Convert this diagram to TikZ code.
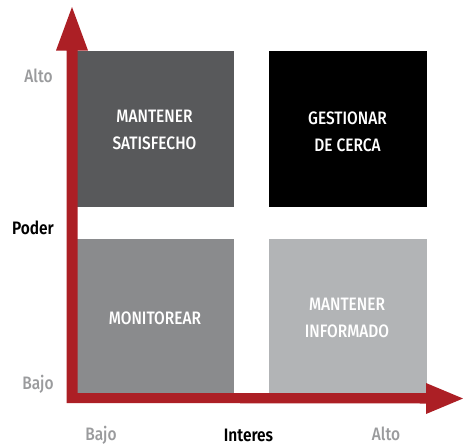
\documentclass[tikz,border=0pt]{standalone}
\usepackage{fontspec}
\setmainfont{Fira Sans}[UprightFont=* Medium, BoldFont=* SemiBold, FakeStretch=0.86]
\definecolor{axred}{HTML}{AC1F25}
\definecolor{qa}{HTML}{58595B}
\definecolor{qb}{HTML}{000000}
\definecolor{qc}{HTML}{8A8B8D}
\definecolor{qd}{HTML}{B2B4B6}
\definecolor{lblgray}{HTML}{9A9B9D}
\begin{document}
\begin{tikzpicture}[x=1pt,y=-1pt,
  qtext/.style={text=white,font=\fontsize{18}{27}\selectfont,align=center,anchor=north,inner sep=0pt},
  axlbl/.style={text=lblgray,font=\fontsize{18}{20}\selectfont,anchor=base,inner sep=0pt},
  axtitle/.style={text=black,font=\bfseries\fontsize{18}{20}\selectfont,anchor=base,inner sep=0pt}]
\useasboundingbox (0,0) rectangle (463,445);
% quadrants
\fill[qa] (77,50.5) rectangle (234.3,206.7);
\fill[qb] (269,50.5) rectangle (426.7,206.7);
\fill[qc] (77,239) rectangle (234.3,393);
\fill[qd] (269,239) rectangle (426.7,393);
\node[qtext] (q1) at (154.5,110) {MANTENER\\SATISFECHO};
\node[qtext] (q2) at (347.5,111.5) {GESTIONAR\\DE CERCA};
\node[qtext] (q3) at (155,311.5) {MONITOREAR};
\node[qtext] (q4) at (347,298) {MANTENER\\INFORMADO};
% axes
\fill[axred] (66.5,403) -- (66.5,50.5) -- (56,50.5) -- (72,7) -- (88,50.5) -- (77.5,50.5) -- (77.5,393) -- (426,393) -- (426,383) -- (463,398.5) -- (426,414) -- (426,403.5) -- cycle;
% labels
\node[axlbl] (alto1) at (38.5,82) {Alto};
\node[axtitle] (poder) at (33,234) {Poder};
\node[axlbl] (bajo1) at (38,389) {Bajo};
\node[axlbl] (bajo2) at (101,440) {Bajo};
\node[axtitle] (int) at (248.5,441) {Interes};
\node[axlbl] (alto2) at (386,440) {Alto};
\end{tikzpicture}
\end{document}
